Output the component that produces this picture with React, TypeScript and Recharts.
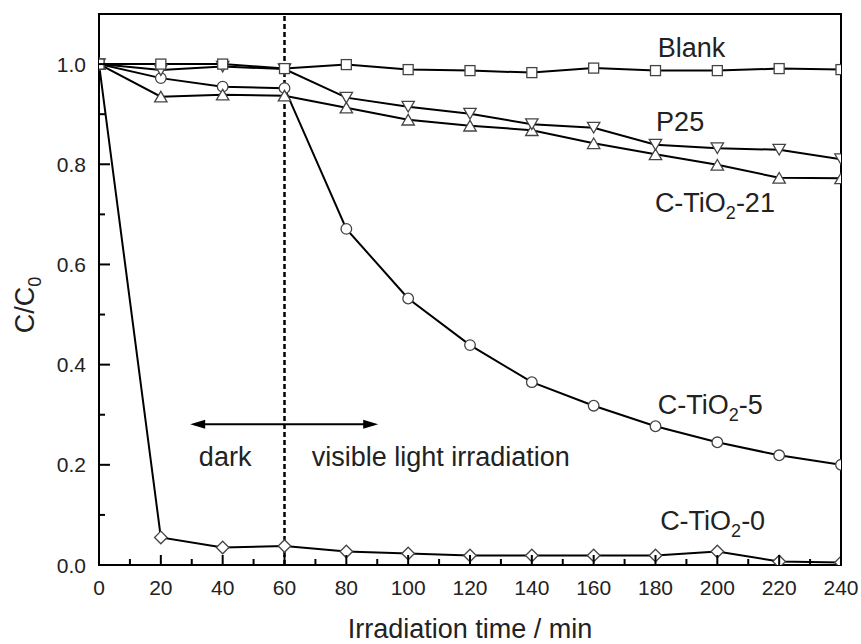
import React from "react";
import {
  LineChart,
  Line,
  XAxis,
  YAxis,
  ReferenceLine,
  ReferenceArea,
  ReferenceDot,
} from "recharts";

const times = [0, 20, 40, 60, 80, 100, 120, 140, 160, 180, 200, 220, 240];
const blank = [1.0, 1.0, 1.0, 0.991, 0.999, 0.989, 0.987, 0.983, 0.992, 0.987, 0.987, 0.991, 0.989];
const p25 = [1.0, 0.988, 0.995, 0.99, 0.933, 0.915, 0.901, 0.88, 0.873, 0.839, 0.832, 0.829, 0.81];
const cTiO2_21 = [1.0, 0.935, 0.939, 0.937, 0.913, 0.889, 0.877, 0.868, 0.842, 0.82, 0.799, 0.773, 0.772];
const cTiO2_5 = [1.0, 0.972, 0.955, 0.952, 0.671, 0.532, 0.439, 0.365, 0.318, 0.277, 0.245, 0.219, 0.2];
const cTiO2_0 = [1.0, 0.055, 0.035, 0.038, 0.027, 0.023, 0.019, 0.019, 0.019, 0.019, 0.027, 0.007, 0.005];

const xTicks = [0, 10, 20, 30, 40, 50, 60, 70, 80, 90, 100, 110, 120, 130, 140, 150, 160, 170, 180, 190, 200, 210, 220, 230, 240];
const yTicks = [0, 0.1, 0.2, 0.3, 0.4, 0.5, 0.6, 0.7, 0.8, 0.9, 1.0];

// series labels in the plot: text, subscript, rest
const seriesLabels = [
  { x: 180.7, y: 1.014, text: "Blank", sub: "", rest: "" },
  { x: 180.2, y: 0.866, text: "P25", sub: "", rest: "" },
  { x: 179.8, y: 0.705, text: "C-TiO", sub: "2", rest: "-21" },
  { x: 180.7, y: 0.301, text: "C-TiO", sub: "2", rest: "-5" },
  { x: 181.5, y: 0.07, text: "C-TiO", sub: "2", rest: "-0" },
  { x: 32.3, y: 0.198, text: "dark", sub: "", rest: "" },
  { x: 68.8, y: 0.198, text: "visible light irradiation", sub: "", rest: "" },
];

const darkLightArrow = { from: 29.5, to: 90.3, y: 0.281 };
const darkEnd = 60;

const data = times.map((t, i) => ({
  t,
  blank: blank[i],
  p25: p25[i],
  c21: cTiO2_21[i],
  c5: cTiO2_5[i],
  c0: cTiO2_0[i],
}));

const W = 861;
const H = 644;
const M = { top: 14, right: 20, bottom: 0, left: 0 };
const Y_W = 99;
const X_H = 79;
const plot = { x: Y_W, y: M.top, w: W - Y_W - M.right, h: H - M.top - X_H };

const FONT = "'Liberation Sans', Arial, Helvetica, sans-serif";
const MARK_STROKE = "#444";

function marker(kind: string) {
  return (p: any) => {
    const { cx, cy, index } = p;
    const key = `${kind}-${index}`;
    if (cx == null || cy == null) return <g key={key} />;
    const common = { fill: "#fff", stroke: MARK_STROKE, strokeWidth: 1.3 };
    let shape;
    if (kind === "square") shape = <rect x={cx - 5} y={cy - 5} width={10} height={10} {...common} />;
    else if (kind === "circle") shape = <circle cx={cx} cy={cy} r={5.3} {...common} />;
    else if (kind === "diamond")
      shape = (
        <polygon points={`${cx},${cy - 6.3} ${cx + 6.3},${cy} ${cx},${cy + 6.3} ${cx - 6.3},${cy}`} {...common} />
      );
    else if (kind === "down")
      shape = <polygon points={`${cx - 6.2},${cy - 5.3} ${cx + 6.2},${cy - 5.3} ${cx},${cy + 5.3}`} {...common} />;
    else shape = <polygon points={`${cx - 6.2},${cy + 5.3} ${cx + 6.2},${cy + 5.3} ${cx},${cy - 5.3}`} {...common} />;
    const id = `clip-${key}`;
    return (
      <g key={key}>
        <defs>
          <clipPath id={id}>
            <rect x={plot.x} y={plot.y} width={plot.w} height={plot.h} />
          </clipPath>
        </defs>
        <g clipPath={`url(#${id})`}>{shape}</g>
      </g>
    );
  };
}

const XTick = (props: any) => {
  const { x, y, payload } = props;
  const v = payload.value;
  const major = v % 20 === 0;
  return (
    <g>
      <line x1={x} x2={x} y1={y} y2={y - (major ? 10 : 6)} stroke="#000" strokeWidth={2} />
      {major && (
        <text x={x} y={y + 30} textAnchor="middle" fontSize={21} fontFamily={FONT} fill="#222">
          {v}
        </text>
      )}
    </g>
  );
};

const YTick = (props: any) => {
  const { x, y, payload } = props;
  const v = payload.value;
  const major = Math.round(v * 10) % 2 === 0;
  return (
    <g>
      <line x1={x} x2={x + (major ? 11 : 6)} y1={y} y2={y} stroke="#000" strokeWidth={2} />
      {major && (
        <text x={x - 13} y={y} dy="0.36em" textAnchor="end" fontSize={21} fontFamily={FONT} fill="#222">
          {v.toFixed(1)}
        </text>
      )}
    </g>
  );
};

const XTitle = (props: any) => {
  const { x, y, width } = props.viewBox;
  return (
    <text x={x + width / 2} y={y + 73} textAnchor="middle" fontSize={27} fontFamily={FONT} fill="#222">
      Irradiation time / min
    </text>
  );
};

const YTitle = () => (
  <text
    x={34}
    y={305}
    transform="rotate(-90, 34, 305)"
    textAnchor="middle"
    fontSize={27}
    fontFamily={FONT}
    fill="#222"
  >
    C/C<tspan dy={7} fontSize={18}>0</tspan>
  </text>
);

const DoubleArrow = (p: any) => {
  const { x1, y1, x2, y2 } = p;
  const head = 15;
  const half = 4.5;
  return (
    <g>
      <line x1={x1 + 4} y1={y1} x2={x2 - 4} y2={y2} stroke="#000" strokeWidth={2} />
      <polygon points={`${x1},${y1} ${x1 + head},${y1 - half} ${x1 + head},${y1 + half}`} fill="#000" />
      <polygon points={`${x2},${y2} ${x2 - head},${y2 - half} ${x2 - head},${y2 + half}`} fill="#000" />
    </g>
  );
};

function labelShape(l: (typeof seriesLabels)[number]) {
  return (p: any) => (
    <text x={p.cx} y={p.cy} fontSize={27} fontFamily={FONT} fill="#222">
      {l.text}
      {l.sub && (
        <tspan dy={7} fontSize={18}>
          {l.sub}
        </tspan>
      )}
      {l.rest && <tspan dy={-7}>{l.rest}</tspan>}
    </text>
  );
}

export default function App() {
  return (
    <div style={{ position: "absolute", left: 0, top: 0, width: W, height: H, background: "#fff" }}>
      <LineChart width={W} height={H} data={data} margin={M}>
        <XAxis
          dataKey="t"
          type="number"
          domain={[0, 240]}
          ticks={xTicks}
          interval={0}
          allowDataOverflow
          tickSize={0}
          tickMargin={0}
          tickLine={false}
          tick={<XTick />}
          axisLine={{ stroke: "#000", strokeWidth: 2 }}
          height={X_H}
          label={<XTitle />}
        />
        <YAxis
          type="number"
          domain={[0, 1.1]}
          ticks={yTicks}
          interval={0}
          allowDataOverflow
          tickSize={0}
          tickMargin={0}
          tickLine={false}
          tick={<YTick />}
          axisLine={{ stroke: "#000", strokeWidth: 2 }}
          width={Y_W}
          label={<YTitle />}
        />
        <ReferenceArea x1={0} x2={240} y1={0} y2={1.1} fill="none" stroke="#000" strokeWidth={2} ifOverflow="visible" />
        <ReferenceLine x={darkEnd} stroke="#000" strokeWidth={2.5} strokeDasharray="5 3" />
        <ReferenceLine
          segment={[
            { x: darkLightArrow.from, y: darkLightArrow.y },
            { x: darkLightArrow.to, y: darkLightArrow.y },
          ]}
          shape={<DoubleArrow />}
          ifOverflow="visible"
        />
        <Line dataKey="c0" stroke="#000" strokeWidth={2} dot={marker("diamond")} isAnimationActive={false} />
        <Line dataKey="c5" stroke="#000" strokeWidth={2} dot={marker("circle")} isAnimationActive={false} />
        <Line dataKey="c21" stroke="#000" strokeWidth={2} dot={marker("up")} isAnimationActive={false} />
        <Line dataKey="p25" stroke="#000" strokeWidth={2} dot={marker("down")} isAnimationActive={false} />
        <Line dataKey="blank" stroke="#000" strokeWidth={2} dot={marker("square")} isAnimationActive={false} />
        {seriesLabels.map((l) => (
          <ReferenceDot
            key={l.text + l.rest}
            x={l.x}
            y={l.y}
            r={0}
            ifOverflow="visible"
            shape={labelShape(l)}
          />
        ))}
      </LineChart>
    </div>
  );
}
